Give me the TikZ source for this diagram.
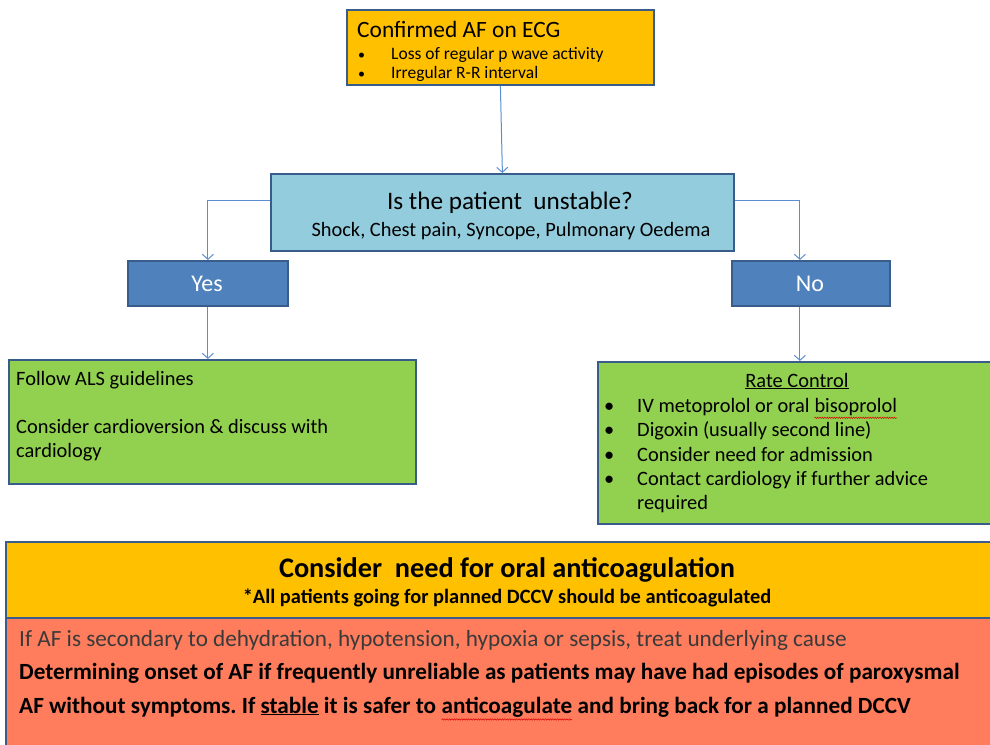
\documentclass[tikz,border=0pt]{standalone}
\usepackage{fontspec}
\setmainfont{Carlito}
\usetikzlibrary{arrows.meta,decorations.pathmorphing}
\frenchspacing

\definecolor{amber}{HTML}{FFC000}
\definecolor{skyfill}{HTML}{93CDDD}
\definecolor{midblue}{HTML}{4F81BD}
\definecolor{leaf}{HTML}{92D050}
\definecolor{coral}{HTML}{FF7C5C}
\definecolor{boxline}{HTML}{385D8A}
\definecolor{linkblue}{HTML}{5B8ED0}
\definecolor{darktext}{HTML}{3A3A3A}

% red wavy spell-check mark under a word
\newcommand\spellmark[1]{\tikz[baseline=(sw.base)]{\node[inner sep=0pt,outer sep=0pt](sw){#1};
  \draw[red!85!black,line width=0.5pt,decorate,decoration={snake,amplitude=0.7pt,segment length=2.4pt}]
  ([yshift=-2.5pt]sw.south west) -- ([yshift=-2.5pt]sw.south east);}}

\tikzset{
  box/.style={draw=boxline, line width=1.8pt, inner sep=0pt, anchor=north west},
  txt/.style={anchor=base west, inner sep=0pt},
  ctxt/.style={anchor=base, inner sep=0pt},
  body/.style={font=\fontsize{20.4}{24}\selectfont},
  link/.style={draw=linkblue, line width=1pt, -{Straight Barb[length=5pt,width=11pt,line width=1pt]}},
}

\begin{document}
\begin{tikzpicture}[x=1pt,y=-1pt]
\useasboundingbox (0,0) rectangle (990,744);
\clip (0,0) rectangle (990,744);

% ---- boxes ----
\node[box, fill=amber, minimum width=307pt, minimum height=75pt] (ecg) at (346,9) {};
\node[box, fill=skyfill, minimum width=463pt, minimum height=77pt] (q) at (270,173) {};
\node[box, fill=midblue, minimum width=160pt, minimum height=45pt] (yes) at (127,260) {};
\node[box, fill=midblue, minimum width=158pt, minimum height=45pt] (no) at (731,260) {};
\node[box, fill=leaf, minimum width=407pt, minimum height=124pt] (als) at (8,359) {};
\node[box, fill=leaf, minimum width=420pt, minimum height=162pt] (rate) at (597,361) {};
\node[box, fill=amber, minimum width=1000pt, minimum height=76pt] (anti) at (5,541) {};
\node[box, fill=coral, minimum width=1000pt, minimum height=150pt] (notes) at (5,617) {};

% ---- connectors ----
\coordinate (ql) at ([yshift=11.5pt]q.west);
\coordinate (qr) at ([yshift=11.5pt]q.east);
\coordinate (nodrop) at ([xshift=-11pt]no.north);
\coordinate (noout) at ([xshift=-11pt]no.south);
\draw[link] (ecg.south) -- (q.north);
\draw[link] (ql) -| (yes.north);
\draw[link] (qr) -| (nodrop);
\draw[link] (yes.south) -- (yes.south |- als.north);
\draw[link] (noout) -- (noout |- rate.north);

% ---- texts ----
\node[txt, font=\fontsize{23.4}{28}\selectfont] (ecgt) at (357,37) {Confirmed AF on ECG};
\node[txt, font=\fontsize{14}{17}\selectfont] (ecgb1) at (358,59) {•};
\node[txt, font=\fontsize{17.5}{21}\selectfont] (ecg1) at (391,59) {Loss of regular p wave activity};
\node[txt, font=\fontsize{14}{17}\selectfont] (ecgb2) at (358,78) {•};
\node[txt, font=\fontsize{17.5}{21}\selectfont] (ecg2) at (391,78) {Irregular R-R interval};

\node[ctxt, font=\fontsize{25.2}{30}\selectfont] (qt) at (510,209) {Is the patient\ \ unstable?};
\node[ctxt, font=\fontsize{20.4}{24}\selectfont] (qs) at (511,236) {Shock, Chest pain, Syncope, Pulmonary Oedema};

\node[ctxt, font=\fontsize{24}{28}\selectfont, text=white] (yest) at (207,291) {Yes};
\node[ctxt, font=\fontsize{24}{28}\selectfont, text=white] (not) at (810,291) {No};

\node[txt, body] (als1) at (16,385) {Follow ALS guidelines};
\node[txt, body] (als2) at (16,433) {Consider cardioversion \& discuss with};
\node[txt, body] (als3) at (16,457) {cardiology};

\node[ctxt, body] (rt) at (797,387) {\underline{Rate Control}};
\foreach \yy/\nm in {412/b1,436/b2,461/b3,485/b4}
  \node[txt, body] (r\nm) at (604,\yy) {•};
\node[txt, body] (r1) at (637,412) {IV metoprolol or oral \spellmark{bisoprolol}};
\node[txt, body] (r2) at (637,436) {Digoxin (usually second line)};
\node[txt, body] (r3) at (637,461) {Consider need for admission};
\node[txt, body] (r4) at (637,485) {Contact cardiology if further advice};
\node[txt, body] (r5) at (637,509) {required};

\node[ctxt, font=\bfseries\fontsize{28.3}{32}\selectfont] (at) at (507,577) {Consider\ \ need for oral anticoagulation};
\node[ctxt, font=\bfseries\fontsize{20.4}{24}\selectfont] (as) at (507,603) {*All patients going for planned DCCV should be anticoagulated};

\node[txt, font=\fontsize{23.2}{27}\selectfont, text=darktext] (n1) at (19,646) {If AF is secondary\ to dehydration, hypotension, hypoxia or sepsis, treat underlying cause};
\node[txt, font=\bfseries\fontsize{23.2}{27}\selectfont] (n2) at (19,679) {Determining onset of AF if frequently unreliable as patients may have had episodes of paroxysmal};
\node[txt, font=\bfseries\fontsize{23.2}{27}\selectfont] (n3) at (19,713) {AF without symptoms. If \underline{stable} it is safer to \spellmark{anticoagulate}\ and bring back for a planned DCCV};
\end{tikzpicture}
\end{document}
